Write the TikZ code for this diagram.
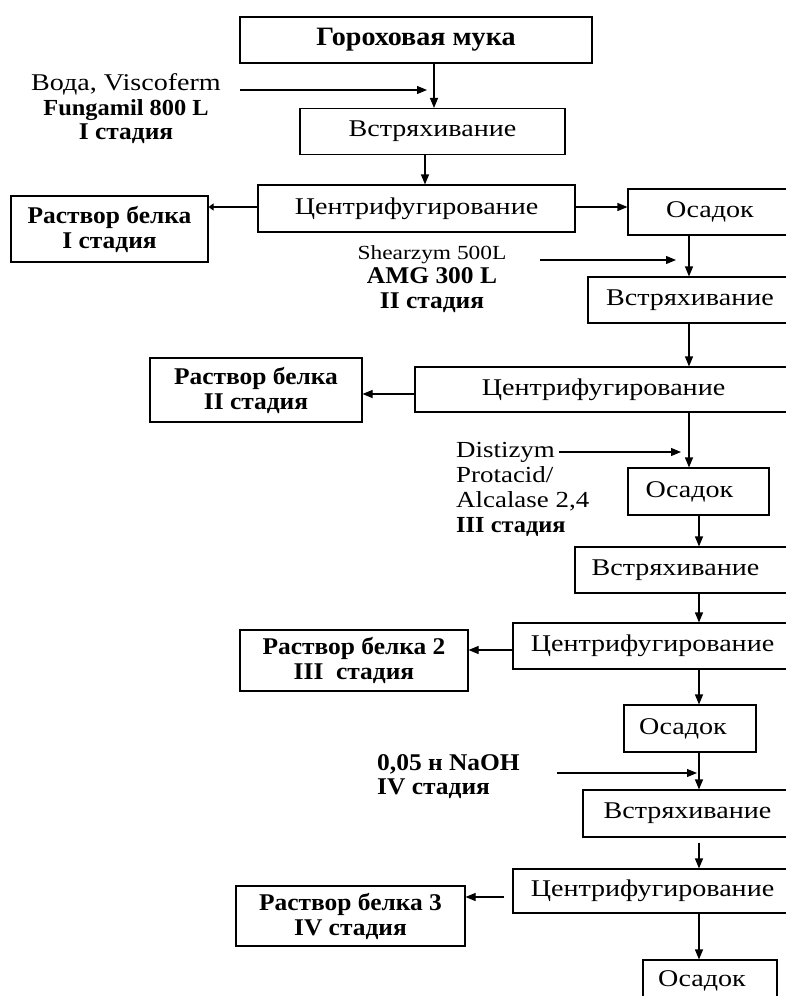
\documentclass[tikz,border=0pt]{standalone}
\usepackage{fontspec}
\setmainfont{Liberation Serif}[FakeStretch=1.17, BoldFeatures={FakeStretch=1.06}]
\usetikzlibrary{arrows.meta}
\begin{document}
\begin{tikzpicture}[x=1pt,y=-1pt,
  box/.style={draw, line width=1.1pt, inner sep=0pt, align=center, font=\fontsize{24}{24}\selectfont},
  bbox/.style={box, font=\fontsize{24}{25}\selectfont\bfseries},
  arr/.style={-{Triangle[length=10pt,width=8pt]}, line width=1.1pt},
  arrsmall/.style={-{Triangle[length=5pt,width=7pt]}, line width=1.1pt},
  lbl/.style={inner sep=0pt, font=\fontsize{24}{24.5}\selectfont}]
\useasboundingbox (0,0) rectangle (786,996);
\clip (0,0) rectangle (786,996);
\fill[white] (0,0) rectangle (786,996);
% boxes
\node[bbox, font=\fontsize{26.5}{27}\selectfont\bfseries, minimum width=352pt, minimum height=46pt] (b1) at (416,40) {Гороховая мука};
\node[box, minimum width=265pt, minimum height=46pt] (b2) at (432.5,131.5) {Встряхивание};
\node[box, minimum width=317pt, minimum height=47pt] (c1) at (416.5,208.5) {Центрифугирование};
\node[bbox, minimum width=197pt, minimum height=66pt] (r1) at (109.5,229) {Раствор белка\\I стадия};
\node[box, minimum width=164pt, minimum height=46pt] (o1) at (710,212) {Осадок};
\node[box, minimum width=204pt, minimum height=46pt] (v2) at (690,300) {Встряхивание};
\node[box, minimum width=377pt, minimum height=45pt] (c2) at (603.5,389.5) {Центрифугирование};
\node[bbox, minimum width=212pt, minimum height=64pt] (r2) at (256,390) {Раствор белка\\II стадия};
\node[box, minimum width=141pt, minimum height=47pt] (o2) at (698.5,491.5) {Осадок\hspace{18pt}};
\node[box, minimum width=217pt, minimum height=46pt] (v3) at (683.5,570) {Встряхивание\hspace{16pt}};
\node[box, minimum width=279pt, minimum height=46pt] (c3) at (652.5,646) {Центрифугирование};
\node[bbox, minimum width=228pt, minimum height=61pt] (r3) at (354,660.5) {Раствор белка 2\\III\ \ стадия};
\node[box, minimum width=132pt, minimum height=47pt] (o3) at (690,728.5) {Осадок\hspace{14pt}};
\node[box, minimum width=209pt, minimum height=47pt] (v4) at (687.5,813.5) {Встряхивание};
\node[box, minimum width=279pt, minimum height=44pt] (c4) at (652.5,891) {Центрифугирование};
\node[bbox, minimum width=229pt, minimum height=60pt] (r4) at (350.5,916) {Раствор белка 3\\IV стадия};
\node[box, minimum width=134pt, minimum height=42pt] (o4) at (710,981) {Осадок\hspace{16pt}};
% side labels
\node[lbl, align=center] (l1) at (126,109) {Вода, Viscoferm\\{\fontsize{23}{24.5}\selectfont\bfseries Fungamil 800 L}\\\textbf{I стадия}};
\node[lbl, align=center] (l2) at (432,279) {{\fontsize{20}{24.5}\selectfont Shearzym 500L}\\\textbf{AMG 300 L}\\\textbf{II стадия}};
\node[lbl, align=left, anchor=west, font=\fontsize{23}{25}\selectfont] (l3) at (456,489) {Distizym\\Protacid/\\Alcalase 2,4\\\textbf{III стадия}};
\node[lbl, align=left, anchor=west, font=\fontsize{24}{24}\selectfont\bfseries] (l4) at (377,777) {0,05 н NaOH\\IV стадия};
% helper coordinates
\coordinate (xa) at (434,0);
\coordinate (xb) at (425,0);
\coordinate (xc) at (689,0);
\coordinate (xd) at (699,0);
\coordinate (ya) at (0,207);
\coordinate (yb) at (0,394);
\coordinate (yc) at (0,650);
\coordinate (yd) at (0,897);
\coordinate (s1a) at (240,90);  \coordinate (s1b) at (427,90);
\coordinate (s2a) at (540,260); \coordinate (s2b) at (676,260);
\coordinate (s3a) at (559,452); \coordinate (s3b) at (681,452);
\coordinate (s4a) at (557,773); \coordinate (s4b) at (697,773);
% connectors
\draw[arr] (b1.south -| xa) -- (b2.north -| xa);
\draw[arr] (b2.south -| xb) -- (c1.north -| xb);
\draw[arr] (c1.east |- ya) -- (o1.west |- ya);
\draw[arrsmall] (c1.west |- ya) -- (r1.east |- ya);
\draw[arr] (o1.south -| xc) -- (v2.north -| xc);
\draw[arr] (v2.south -| xc) -- (c2.north -| xc);
\draw[arr] (c2.west |- yb) -- (r2.east |- yb);
\draw[arr] (c2.south -| xc) -- (o2.north -| xc);
\draw[arr] (o2.south -| xd) -- (v3.north -| xd);
\draw[arr] (v3.south -| xd) -- (c3.north -| xd);
\draw[arr] (c3.west |- yc) -- (r3.east |- yc);
\draw[arr] (c3.south -| xd) -- (o3.north -| xd);
\draw[arr] (o3.south -| xd) -- (v4.north -| xd);
\draw[arr, shorten <=5pt] (v4.south -| xd) -- (c4.north -| xd);
\draw[arr, shorten <=8pt] (c4.west |- yd) -- (r4.east |- yd);
\draw[arr] (c4.south -| xd) -- (o4.north -| xd);
\draw[arr] (s1a) -- (s1b);
\draw[arr] (s2a) -- (s2b);
\draw[arr] (s3a) -- (s3b);
\draw[arr] (s4a) -- (s4b);
\end{tikzpicture}
\end{document}
